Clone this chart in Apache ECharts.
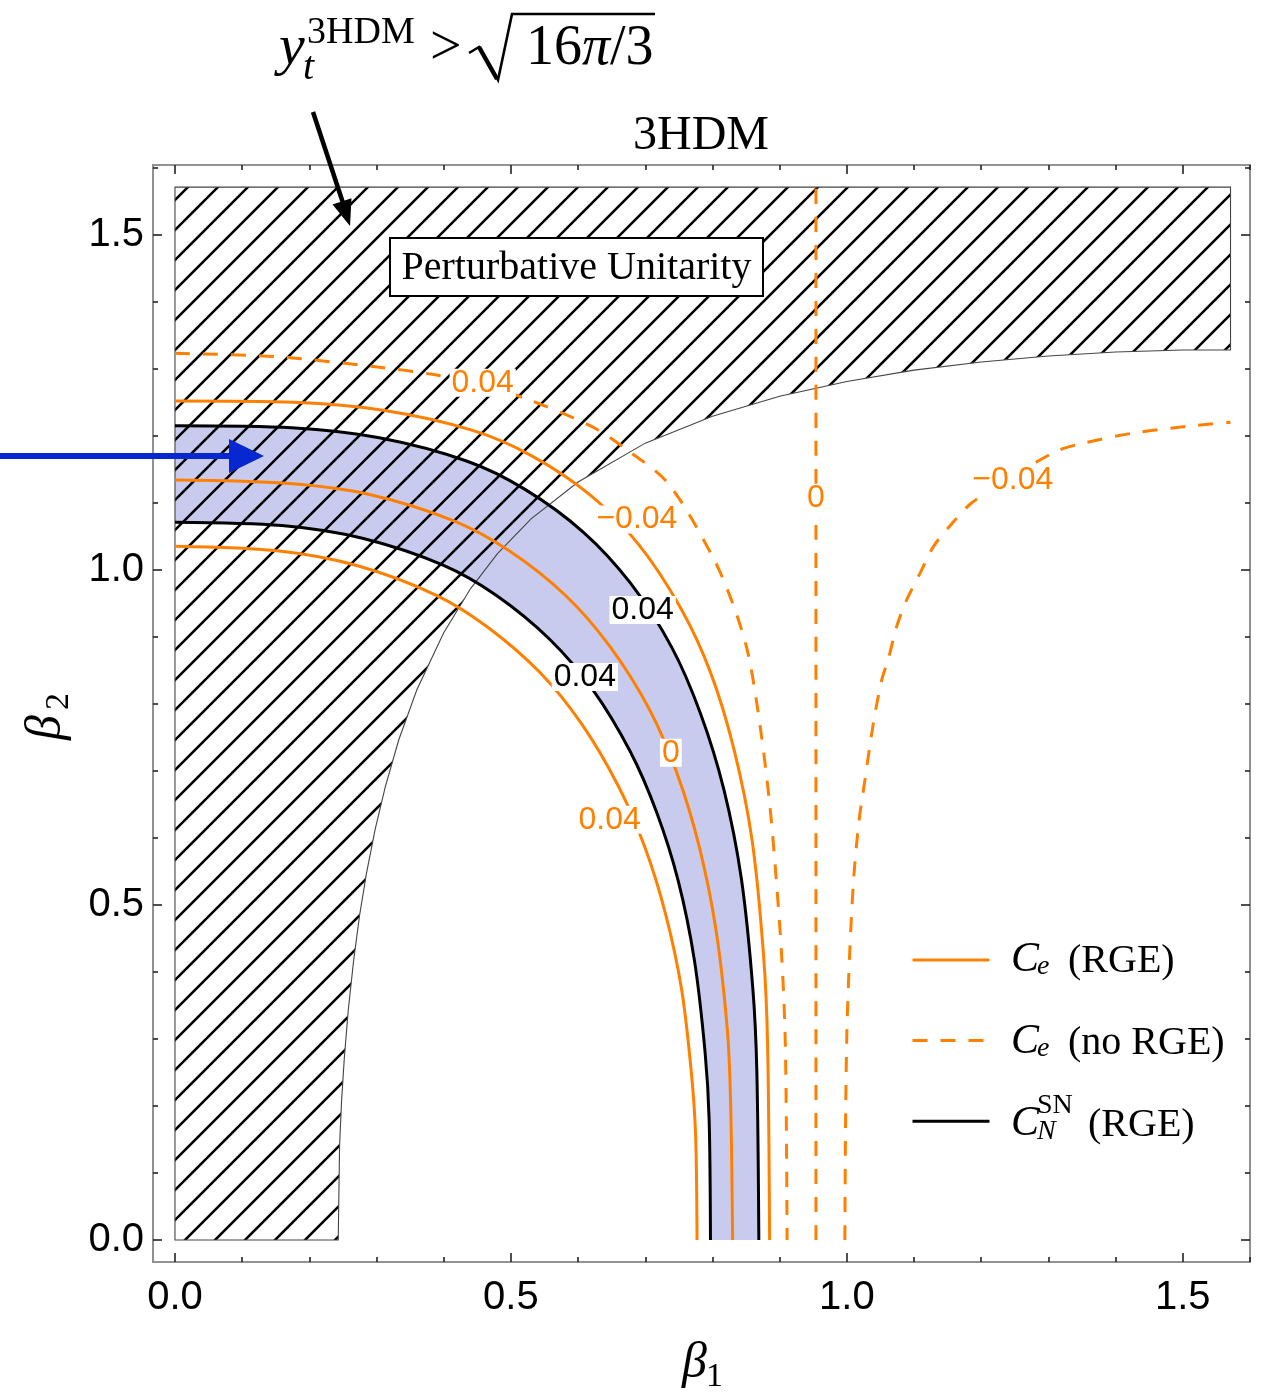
<!DOCTYPE html>
<html>
<head>
<meta charset="utf-8">
<title>3HDM</title>
<script src="https://cdn.jsdelivr.net/npm/echarts@6.0.0/dist/echarts.min.js"></script>
<style>
  html, body { margin: 0; padding: 0; background: #fff; }
  #main { width: 1266px; height: 1392px; }
</style>
</head>
<body>
<div id="main"></div>
<script>
// axis ranges (beta1, beta2) and ticks
var xMin = -0.0327, xMax = 1.6;
var yMin = -0.0328, yMax = 1.604;
var majorTicks = [0, 0.5, 1.0, 1.5];
var minorTicks = [0.1, 0.2, 0.3, 0.4, 0.6, 0.7, 0.8, 0.9, 1.1, 1.2, 1.3, 1.4, 1.6];
var betaMax = 1.571;

// C_e with RGE, contour levels 0.04 / 0 / -0.04
var ceRgePlus = [[0, 1.035], [0.155, 1.028], [0.272, 1.006], [0.389, 0.962], [0.466, 0.914], [0.544, 0.846], [0.606, 0.769], [0.660, 0.677], [0.699, 0.587], [0.730, 0.487], [0.754, 0.374], [0.769, 0.245], [0.775, 0.153], [0.777, 0]];
var ceRgeZero = [[0, 1.134], [0.166, 1.129], [0.291, 1.112], [0.415, 1.073], [0.498, 1.028], [0.581, 0.962], [0.647, 0.886], [0.706, 0.792], [0.747, 0.697], [0.780, 0.588], [0.805, 0.464], [0.822, 0.315], [0.827, 0.205], [0.830, 0]];
var ceRgeMinus = [[0, 1.252], [0.177, 1.250], [0.310, 1.238], [0.443, 1.208], [0.531, 1.170], [0.620, 1.110], [0.690, 1.038], [0.752, 0.944], [0.797, 0.847], [0.832, 0.732], [0.859, 0.596], [0.876, 0.425], [0.882, 0.293], [0.885, 0]];

// C_e without RGE
var ceNoRgePlus = [[0, 1.323], [0.149, 1.318], [0.298, 1.303], [0.387, 1.291], [0.458, 1.276], [0.526, 1.254], [0.620, 1.214], [0.670, 1.181], [0.734, 1.129], [0.800, 1.020], [0.830, 0.950], [0.853, 0.875], [0.871, 0.766], [0.885, 0.652], [0.895, 0.537], [0.903, 0.423], [0.908, 0.309], [0.910, 0.166], [0.911, 0]];
var ceNoRgeZero = [[0.954, 0], [0.954, 1.571]];
var ceNoRgeMinus = [[0.997, 0], [0.998, 0.166], [1.000, 0.309], [1.004, 0.423], [1.010, 0.537], [1.018, 0.625], [1.027, 0.687], [1.034, 0.736], [1.042, 0.786], [1.052, 0.836], [1.062, 0.868], [1.074, 0.915], [1.089, 0.955], [1.109, 0.995], [1.129, 1.035], [1.153, 1.065], [1.186, 1.100], [1.248, 1.140], [1.312, 1.177], [1.352, 1.189], [1.426, 1.204], [1.506, 1.214], [1.571, 1.220]];

// C_N^SN with RGE, 0.04 band edges
var cnLower = [[0, 1.071], [0.159, 1.066], [0.279, 1.047], [0.399, 1.007], [0.478, 0.962], [0.558, 0.896], [0.622, 0.821], [0.677, 0.730], [0.717, 0.638], [0.749, 0.536], [0.773, 0.418], [0.789, 0.280], [0.795, 0.180], [0.797, 0]];
var cnUpper = [[0, 1.215], [0.174, 1.212], [0.304, 1.197], [0.435, 1.162], [0.521, 1.120], [0.608, 1.056], [0.678, 0.980], [0.739, 0.885], [0.782, 0.786], [0.817, 0.672], [0.843, 0.539], [0.860, 0.376], [0.866, 0.253], [0.869, 0]];

// perturbative unitarity edge (y_t^3HDM = sqrt(16 pi/3))
var unitarityEdge = [[0.243, 0], [0.245, 0.141], [0.248, 0.208], [0.252, 0.271], [0.258, 0.344], [0.266, 0.418], [0.275, 0.486], [0.285, 0.547], [0.298, 0.613], [0.313, 0.676], [0.333, 0.746], [0.36, 0.821], [0.40, 0.906], [0.44, 0.972], [0.48, 1.024], [0.53, 1.076], [0.60, 1.131], [0.70, 1.189], [0.80, 1.229], [0.90, 1.259], [1.00, 1.281], [1.10, 1.298], [1.20, 1.310], [1.30, 1.319], [1.40, 1.325], [1.50, 1.328], [1.571, 1.328]];

// contour labels
var labelPos = [[0.458, 1.279], [0.6875, 1.075], [0.954, 1.107], [1.247, 1.134], [0.696, 0.940], [0.610, 0.840], [0.738, 0.727], [0.647, 0.627]];
var labelText = ['0.04', '\u22120.04', '0', '\u22120.04', '0.04', '0.04', '0', '0.04'];
var labelKind = ['ce', 'ce', 'ce', 'ce', 'cn', 'cn', 'ce', 'ce'];

var ORANGE = '#ff8000';
var SERIF = '"Liberation Serif", "DejaVu Serif", serif';
var SANS = '"Liberation Sans", Arial, sans-serif';

// hatch pattern tile
var hatch = document.createElement('canvas');
hatch.width = 30; hatch.height = 30;
var hg = hatch.getContext('2d');
hg.strokeStyle = '#000';
hg.lineWidth = 2.6;
hg.beginPath();
hg.moveTo(-3, 18); hg.lineTo(18, -3);
hg.moveTo(12, 33); hg.lineTo(33, 12);
hg.stroke();

var bandPoly = cnLower.concat(cnUpper.slice().reverse());
var hatchPoly = [[0, 0]].concat(unitarityEdge, [[betaMax, betaMax], [0, betaMax]]);

function frameAxis(dim, position, ticks, len, labels) {
  var ax = {
    type: 'value', position: position,
    min: dim === 'x' ? xMin : yMin, max: dim === 'x' ? xMax : yMax,
    axisLine: { show: true, onZero: false, lineStyle: { color: '#8c8c8c', width: 1.6 } },
    axisTick: { show: true, inside: true, length: len, customValues: ticks, lineStyle: { color: '#222', width: 1.6 } },
    minorTick: { show: false },
    splitLine: { show: false },
    axisLabel: { show: false }
  };
  if (labels) {
    ax.axisLabel = {
      show: true, customValues: majorTicks, color: '#000', fontSize: 40, fontFamily: SANS,
      margin: dim === 'x' ? 16 : 9,
      formatter: function (v) { return v.toFixed(1); }
    };
  }
  return ax;
}

function polySeries(points, fill, z, stroke) {
  return {
    type: 'custom', coordinateSystem: 'cartesian2d', data: [[0, 0]], z: z, silent: true,
    renderItem: function (params, api) {
      return {
        type: 'polygon',
        shape: { points: points.map(function (p) { return api.coord(p); }) },
        style: { fill: fill, stroke: stroke || null, lineWidth: 1.1 }
      };
    }
  };
}

function contour(name, data, color, dashed) {
  return {
    type: 'line', name: name, data: data, symbol: 'none', showSymbol: false,
    smooth: 0.3, z: 4, silent: true,
    lineStyle: { color: color, width: 3, type: dashed ? [15, 13] : 'solid' },
    itemStyle: { color: color }
  };
}

var labelData = labelPos.map(function (p, i) {
  return {
    value: p,
    label: {
      formatter: labelText[i],
      color: labelKind[i] === 'cn' ? '#000' : ORANGE
    }
  };
});

function txt(x, y, s, font, extra) {
  var st = { text: s, font: font, fill: '#000', align: 'left', verticalAlign: 'middle' };
  if (extra) for (var k in extra) st[k] = extra[k];
  return { type: 'text', x: x, y: y, silent: true, z: 100, style: st };
}

var chart = echarts.init(document.getElementById('main'));
chart.setOption({
  animation: false,
  backgroundColor: '#fff',
  grid: { left: 153, top: 165, width: 1097, height: 1097, containLabel: false },
  xAxis: [
    frameAxis('x', 'bottom', majorTicks, 9, true),
    frameAxis('x', 'bottom', minorTicks, 5, false),
    frameAxis('x', 'top', majorTicks, 9, false),
    frameAxis('x', 'top', minorTicks, 5, false)
  ],
  yAxis: [
    frameAxis('y', 'left', majorTicks, 9, true),
    frameAxis('y', 'left', minorTicks, 5, false),
    frameAxis('y', 'right', majorTicks, 9, false),
    frameAxis('y', 'right', minorTicks, 5, false)
  ],
  legend: {
    data: ['Ce (RGE)', 'Ce (no RGE)', 'CN (RGE)'],
    orient: 'vertical', left: 911, top: 953, padding: 0,
    itemWidth: 77, itemHeight: 14, itemGap: 68,
    selectedMode: false,
    lineStyle: { width: 3 },
    itemStyle: { opacity: 0 },
    formatter: function () { return ''; }
  },
  series: [
    polySeries(bandPoly, '#c9cbee', 1, null),
    polySeries(hatchPoly, { image: hatch, repeat: 'repeat' }, 2, '#444'),
    contour('Ce (RGE)', ceRgePlus, ORANGE, false),
    contour('Ce (RGE)', ceRgeZero, ORANGE, false),
    contour('Ce (RGE)', ceRgeMinus, ORANGE, false),
    contour('Ce (no RGE)', ceNoRgePlus, ORANGE, true),
    contour('Ce (no RGE)', ceNoRgeZero, ORANGE, true),
    contour('Ce (no RGE)', ceNoRgeMinus, ORANGE, true),
    contour('CN (RGE)', cnLower, '#000', false),
    contour('CN (RGE)', cnUpper, '#000', false),
    {
      type: 'scatter', data: labelData, symbolSize: 0, z: 6, silent: true,
      label: {
        show: true, position: 'inside', fontSize: 32, fontFamily: SANS,
        backgroundColor: '#fff', padding: [0, 2], lineHeight: 28,
        textBorderWidth: 0, textBorderColor: 'transparent', opacity: 1
      }
    }
  ],
  graphic: [
    // title
    txt(701, 136, '3HDM', '48px ' + SERIF, { align: 'center' }),
    // y_t^3HDM > sqrt(16 pi / 3)
    txt(279, 49, 'y', 'italic 58px ' + SERIF),
    txt(303, 68, 't', 'italic 40px ' + SERIF),
    txt(307, 33, '3HDM', '38px ' + SERIF),
    txt(430, 49, '>', '56px ' + SERIF),
    {
      type: 'polyline', silent: true, z: 100,
      shape: { points: [[469, 53], [479, 47], [498, 80], [512, 14], [655, 14]] },
      style: { stroke: '#000', lineWidth: 2.6, fill: null }
    },
    {
      type: 'line', silent: true, z: 100,
      shape: { x1: 479, y1: 47, x2: 497, y2: 79 },
      style: { stroke: '#000', lineWidth: 4.5 }
    },
    {
      type: 'text', x: 526, y: 49, silent: true, z: 100,
      style: {
        text: '{n|16}{p|\u03c0}{n|/3}', verticalAlign: 'middle', align: 'left',
        rich: {
          n: { font: '56px ' + SERIF, fill: '#000' },
          p: { font: 'italic 56px ' + SERIF, fill: '#000' }
        }
      }
    },
    // black arrow
    {
      type: 'line', silent: true, z: 100,
      shape: { x1: 313, y1: 112, x2: 343, y2: 203 },
      style: { stroke: '#000', lineWidth: 4.5 }
    },
    {
      type: 'polygon', silent: true, z: 100,
      shape: { points: [[350, 226], [332.5, 204.4], [351.5, 198.2]] },
      style: { fill: '#000' }
    },
    // blue arrow
    {
      type: 'line', silent: true, z: 100,
      shape: { x1: 0, y1: 456, x2: 236, y2: 456 },
      style: { stroke: '#0728d0', lineWidth: 6 }
    },
    {
      type: 'polygon', silent: true, z: 100,
      shape: { points: [[264, 456], [229, 439], [229, 473]] },
      style: { fill: '#0728d0' }
    },
    // unitarity box
    {
      type: 'rect', silent: true, z: 100,
      shape: { x: 390, y: 238, width: 373, height: 58 },
      style: { fill: '#fff', stroke: '#000', lineWidth: 2 }
    },
    txt(576.5, 268, 'Perturbative Unitarity', '40px ' + SERIF, { align: 'center' }),
    // axis names
    txt(682, 1364, '\u03b2', 'italic 50px ' + SERIF),
    txt(706, 1377, '1', '34px ' + SERIF),
    {
      type: 'group', x: 47, y: 740, rotation: Math.PI / 2, silent: true, z: 100,
      children: [
        { type: 'text', x: 0, y: 0, style: { text: '\u03b2', font: 'italic 50px ' + SERIF, fill: '#000', verticalAlign: 'middle' } },
        { type: 'text', x: 30, y: 12, style: { text: '2', font: '34px ' + SERIF, fill: '#000', verticalAlign: 'middle' } }
      ]
    },
    // legend labels
    txt(1011, 960, 'C', 'italic 42px ' + SERIF),
    txt(1037, 967, 'e', 'italic 28px ' + SERIF),
    txt(1068, 961, '(RGE)', '40px ' + SERIF),
    txt(1011, 1042, 'C', 'italic 42px ' + SERIF),
    txt(1037, 1049, 'e', 'italic 28px ' + SERIF),
    txt(1068, 1043, '(no RGE)', '40px ' + SERIF),
    txt(1011, 1124, 'C', 'italic 42px ' + SERIF),
    txt(1037, 1106, 'SN', '28px ' + SERIF),
    txt(1037, 1132, 'N', 'italic 28px ' + SERIF),
    txt(1088, 1125, '(RGE)', '40px ' + SERIF)
  ]
});
</script>
</body>
</html>
